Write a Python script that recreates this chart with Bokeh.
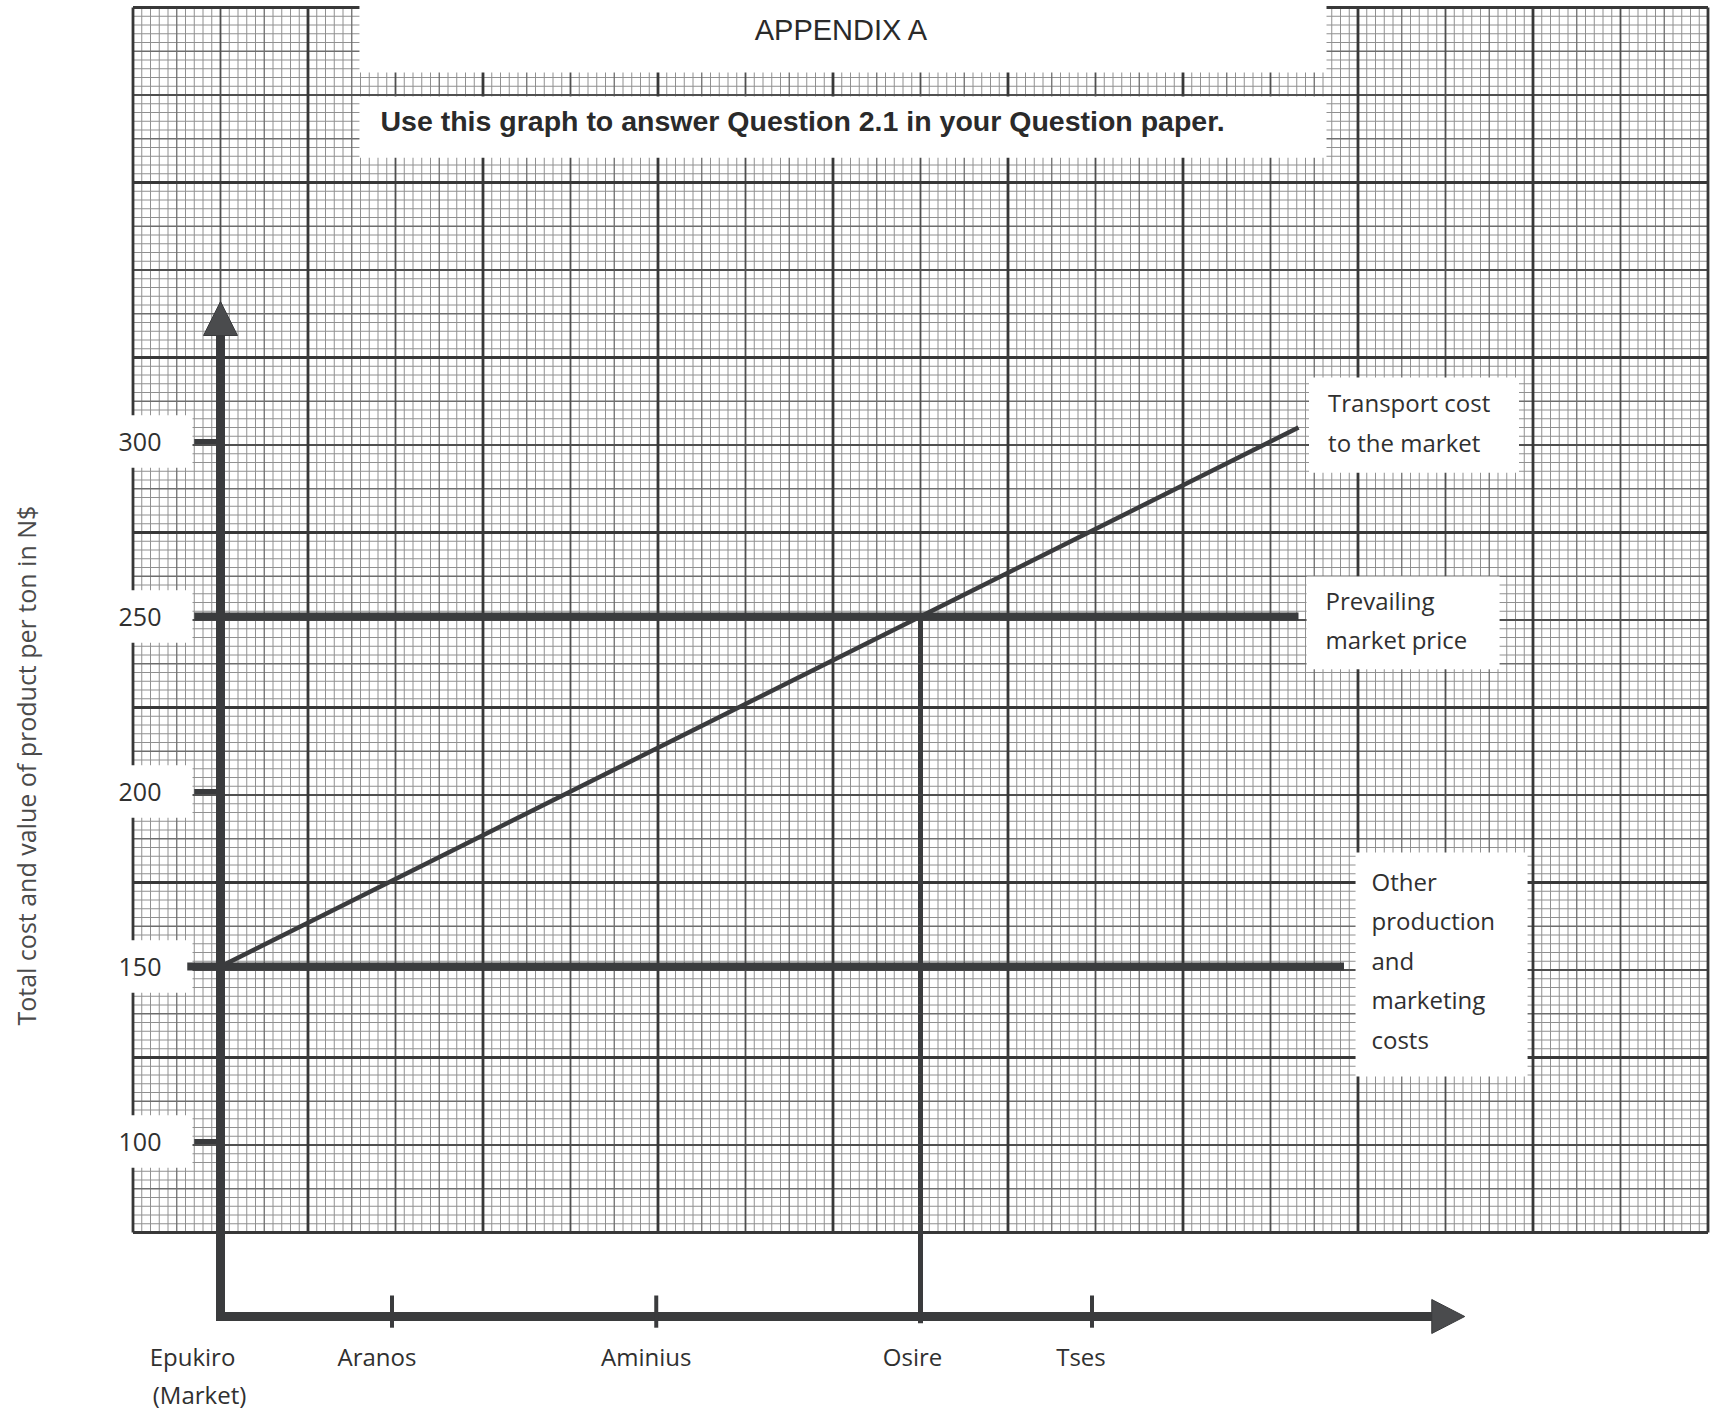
import numpy as np
from bokeh.plotting import figure
from bokeh.models import Range1d, ColumnDataSource
from bokeh.core.properties import value
from bokeh.embed import file_html
from bokeh.resources import INLINE

# ---------------- data ----------------
y_tick_values = [100, 150, 200, 250, 300]
y_tick_labels = ["100", "150", "200", "250", "300"]
places = ["Epukiro", "Aranos", "Aminius", "Osire", "Tses"]
place_dist = [0, 98, 249, 400, 498]
other_costs = 150          # other production and marketing costs
market_price = 250         # prevailing market price
transport_x = [0, 616]     # transport cost to the market (total cost line)
transport_y = [150, 304]
price_line_x = [-15, 616]
other_line_x = [-19, 642]
break_even_dist = 400      # Osire
x_axis_value = 50
x_axis_end = 711
y_axis_end = 340
title = "APPENDIX A"
subtitle = "Use this graph to answer Question 2.1 in your Question paper."
y_title = "Total cost and value of product per ton in N$"
series_labels = [["Transport cost", "to the market"],
                 ["Prevailing", "market price"],
                 ["Other", "production", "and", "marketing", "costs"]]

# ---------------- figure ----------------
W, H = 1713, 1410
PX_X = 1.75   # px per distance unit
PX_Y = 3.5    # px per N$
x0 = (0 - 220) / PX_X
x1 = (W - 220) / PX_X
y1 = 150 + (966 - 0) / PX_Y
y0 = 150 - (H - 966) / PX_Y

p = figure(width=W, height=H, x_range=Range1d(x0, x1), y_range=Range1d(y0, y1),
           output_backend="svg", toolbar_location=None, min_border=0,
           background_fill_color="white", border_fill_color="white")
p.axis.visible = False
p.grid.visible = False
p.outline_line_color = None

# ---------------- graph paper ----------------
gx_min, gx_max = -50, 850
gy_min, gy_max = 74, 424
xs_all = np.arange(gx_min, gx_max + 0.1, 5.0)
ys_all = np.arange(gy_min, gy_max + 0.1, 2.5)

def classify_x(d):
    r = (d - gx_min) % 100
    if abs(r) < 1e-6: return 3
    if abs(r - 50) < 1e-6: return 2
    if abs(r % 25) < 1e-6: return 1
    return 0

def classify_y(v):
    r = (v - gy_min) % 50
    if abs(r) < 1e-6: return 3
    if abs(r - 25) < 1e-6: return 2
    if abs(r % 12.5) < 1e-6: return 1
    return 0

styles = {0: ("#909090", 1.0), 1: ("#6e6e6e", 1.3), 2: ("#505050", 1.8), 3: ("#383838", 2.8)}
for lvl in range(4):
    col, lw = styles[lvl]
    vx = [d for d in xs_all if classify_x(d) == lvl]
    hy = [v for v in ys_all if classify_y(v) == lvl]
    if vx:
        p.segment(x0=vx, y0=[gy_min] * len(vx), x1=vx, y1=[gy_max] * len(vx),
                  line_color=col, line_width=lw)
    if hy:
        p.segment(x0=[gx_min] * len(hy), y0=hy, x1=[gx_max] * len(hy), y1=hy,
                  line_color=col, line_width=lw)

# ---------------- white boxes ----------------
# title boxes
p.quad(left=[79.4, 79.4], right=[632, 632], top=[440, 398.6], bottom=[405.4, 381.1],
       fill_color="white", line_color=None)
# y tick label boxes
p.quad(left=[-66] * 5, right=[-16] * 5,
       top=[v + 7.5 for v in y_tick_values], bottom=[v - 7.5 for v in y_tick_values],
       fill_color="white", line_color=None)
# series label boxes
p.quad(left=[622, 620.6, 648.6], right=[742, 730.9, 746.9],
       top=[318.3, 261.4, 182.6], bottom=[291.1, 234.9, 118.6],
       fill_color="white", line_color=None)

LINE = "#3a3b3d"

# ---------------- y ticks ----------------
tick_vals = [v for v in y_tick_values if v not in (other_costs, market_price)]
p.segment(x0=[-15] * len(tick_vals), y0=tick_vals, x1=[0] * len(tick_vals), y1=tick_vals,
          line_color=LINE, line_width=5)

# ---------------- data lines ----------------
p.line(x=other_line_x, y=[other_costs] * 2, line_color=LINE, line_width=8)
p.line(x=price_line_x, y=[market_price] * 2, line_color=LINE, line_width=8)
p.line(x=transport_x, y=transport_y, line_color=LINE, line_width=4.5)
p.line(x=[break_even_dist] * 2, y=[market_price, x_axis_value - 1.9],
       line_color=LINE, line_width=5)

# ---------------- axes with arrows ----------------
head_len_y = 34 / PX_Y
head_half_x = 17 / PX_X
head_len_x = 33 / PX_X
head_half_y = 17 / PX_Y
p.line(x=[0, 0, x_axis_end - head_len_x + 1],
       y=[y_axis_end - head_len_y + 1, x_axis_value, x_axis_value],
       line_color=LINE, line_width=9, line_join="miter")
p.patches(xs=[[0, -head_half_x, head_half_x],
              [x_axis_end, x_axis_end - head_len_x, x_axis_end - head_len_x]],
          ys=[[y_axis_end, y_axis_end - head_len_y, y_axis_end - head_len_y],
              [x_axis_value, x_axis_value + head_half_y, x_axis_value - head_half_y]],
          fill_color="#4a4b4d", line_color=LINE, line_width=1)
# x ticks
xt = [d for d in place_dist if d not in (0, break_even_dist)]
p.segment(x0=xt, y0=[x_axis_value + 6] * len(xt), x1=xt, y1=[x_axis_value - 3.2] * len(xt),
          line_color=LINE, line_width=4)

# ---------------- texts ----------------
TXT = "#303030"
body_font = value("Open Sans")

src_y = ColumnDataSource(dict(x=[-46] * 5, y=y_tick_values, t=y_tick_labels))
p.text(x="x", y="y", text="t", source=src_y, text_font=body_font, text_font_size="25px",
       text_align="center", text_baseline="middle", text_color=TXT)

label_row = x_axis_value - 11.3
label_offsets = [-28, -15, -10, -8, -11]
src_x = ColumnDataSource(dict(x=place_dist, y=[label_row] * 5, t=places, xo=label_offsets))
p.text(x="x", y="y", text="t", x_offset="xo", source=src_x, text_font=body_font,
       text_font_size="24px", text_align="center", text_baseline="middle", text_color=TXT)
p.text(x=[0], y=[label_row - 11.1], text=["(Market)"], x_offset=[-21], text_font=body_font,
       text_font_size="24px", text_align="center", text_baseline="middle", text_color=TXT)

p.text(x=[-110.9], y=[207.4], text=[y_title], angle=np.pi / 2, text_font=body_font,
       text_font_size="25px", text_align="center", text_baseline="middle", text_color="#4a4a4a")

p.text(x=[355], y=[417.7], text=[title], text_font=value("Liberation Sans"),
       text_font_size="29px", text_align="center", text_baseline="middle", text_color="#2a2a2a")
p.text(x=[332.6], y=[391.7], text=[subtitle], text_font=value("Liberation Sans"),
       text_font_style="bold", text_font_size="28.5px", text_align="center",
       text_baseline="middle", text_color="#2a2a2a")

# series labels
label_x = [632.9, 631.4, 657.7]
label_top = [311.1, 254.6, 174.4]
gap = 11.3
lx, ly, lt = [], [], []
for xx, yt, lines in zip(label_x, label_top, series_labels):
    for i, s in enumerate(lines):
        lx.append(xx); ly.append(yt - i * gap); lt.append(s)
p.text(x=lx, y=ly, text=lt, text_font=body_font, text_font_size="24px",
       text_align="left", text_baseline="middle", text_color=TXT)

open("out.html", "w").write(file_html(p, INLINE))
